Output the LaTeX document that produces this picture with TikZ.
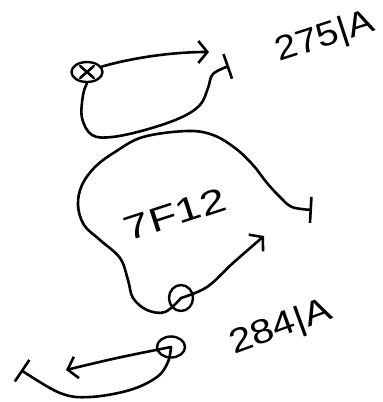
\documentclass[tikz,border=0pt]{standalone}
\usepackage{fontspec}
\setsansfont{Liberation Sans}
\usepackage{tikz}
\usetikzlibrary{shapes.geometric, arrows.meta, positioning, calc}

\begin{document}
\begin{tikzpicture}[x=1pt, y=-1pt, line width=2.6pt, line cap=round, line join=round,
    ring/.style={draw, ellipse, inner sep=0pt, line width=2.4pt},
    wire/.style={line width=2.6pt},
    barend/.style={-{Bar[width=26pt, line width=2.6pt]}},
    headend/.style={-{Straight Barb[length=9pt, width=22pt, line width=2.6pt]}},
    tag/.style={font=\sffamily\fontsize{34}{34}\selectfont, inner sep=0pt}]
\useasboundingbox (0,0) rectangle (383,402);

\node[ring, minimum width=31pt, minimum height=20pt] (ringA) at (87,72) {};
\node[ring, minimum width=24pt, minimum height=26pt] (ringB) at (181,298) {};
\node[ring, minimum width=28pt, minimum height=21pt] (ringC) at (171,347) {};
\coordinate (headA) at (209,52);
\coordinate (endA) at (229,66);
\coordinate (headB) at (264,236);
\coordinate (endB) at (312,210);
\coordinate (headC) at (66,370);
\coordinate (endC) at (21,370);

\draw[wire] (ringA.north west) ++(5,2) -- ($(ringA.south east)+(-5,-2)$);
\draw[wire] (ringA.south west) ++(5,-2) -- ($(ringA.north east)+(-5,2)$);

\draw[wire, headend] (ringA.20) .. controls (135,57) and (175,52) .. (headA);
\draw[wire, barend] plot[smooth, tension=0.6] coordinates {(ringA.south) (83,95) (82,118) (92,135) (112,137) (145,130) (180,118) (200,105) (208,88) (213,74) (endA)};

\draw[wire, barend] plot[smooth, tension=0.6] coordinates {(ringB.center) (165,312) (147,310) (133,298) (128,280) (120,258) (100,240) (84,225) (78,205) (82,185) (95,167) (115,152) (143,137) (187,131) (213,135) (235,148) (253,165) (267,183) (280,197) (292,207) (endB)};
\draw[wire, headend] plot[smooth, tension=0.6] coordinates {(ringB.center) (207,287) (233,263) (headB)};

\draw[wire, headend] plot[smooth, tension=0.6] coordinates {(ringC.center) (117,358) (headC)};
\draw[wire, barend] plot[smooth, tension=0.6] coordinates {(ringC.center) (168,362) (157,377) (130,390) (90,397) (60,393) (endC)};

\node[tag, rotate=18, xscale=1.15] (labelA) at (325,38) {275|A};
\node[tag, rotate=18, xscale=1.35] (labelB) at (175,214) {7F12};
\node[tag, rotate=20, xscale=1.2] (labelC) at (281,328) {284|A};
\end{tikzpicture}
\end{document}
